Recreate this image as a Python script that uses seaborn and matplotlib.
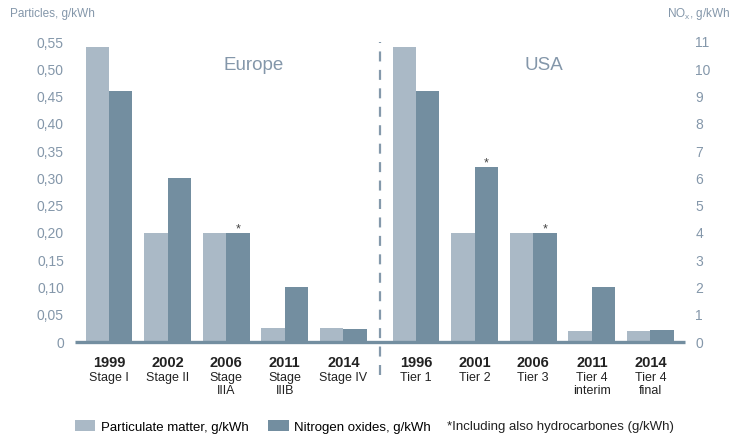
import numpy as np
import pandas as pd
import matplotlib
matplotlib.use("Agg")
import matplotlib.pyplot as plt
import matplotlib.transforms as mtransforms
from matplotlib.patches import Patch
import seaborn as sns

# data
regions = ["Europe", "USA"]
eu_years = ["1999", "2002", "2006", "2011", "2014"]
eu_stages = ["Stage I", "Stage II", "Stage\nIIIA", "Stage\nIIIB", "Stage IV"]
eu_pm = [0.54, 0.20, 0.20, 0.025, 0.025]
eu_nox = [9.2, 6.0, 4.0, 2.0, 0.49]
eu_star = [False, False, True, False, False]

us_years = ["1996", "2001", "2006", "2011", "2014"]
us_stages = ["Tier 1", "Tier 2", "Tier 3", "Tier 4\ninterim", "Tier 4\nfinal"]
us_pm = [0.54, 0.20, 0.20, 0.02, 0.02]
us_nox = [9.2, 6.4, 4.0, 2.0, 0.45]
us_star = [False, True, True, False, False]

pm_ticks = [0, 0.05, 0.10, 0.15, 0.20, 0.25, 0.30, 0.35, 0.40, 0.45, 0.50, 0.55]
nox_ticks = list(range(0, 12))

PM_COLOR = "#aab9c6"
NOX_COLOR = "#738ea0"
LABEL_COLOR = "#8497aa"

plt.rcParams["font.family"] = ["Liberation Sans", "DejaVu Sans"]
plt.rcParams["mathtext.default"] = "regular"

# positions: USA block is shifted a bit to leave room for the divider
us_shift = 5.24
pos = np.concatenate([np.arange(5), np.arange(5) + us_shift])
df = pd.DataFrame({
    "pos": pos,
    "year": eu_years + us_years,
    "stage": eu_stages + us_stages,
    "pm": eu_pm + us_pm,
    "nox": eu_nox + us_nox,
    "star": eu_star + us_star,
})
bw = 0.4

fig = plt.figure(figsize=(7.35, 4.36), dpi=100)
ax = fig.add_axes([75 / 735, 94 / 436, 610 / 735, 300 / 436])
ax2 = ax.twinx()

sns.barplot(x=df["pos"] - bw / 2, y=df["pm"], ax=ax, native_scale=True,
            color=PM_COLOR, saturation=1, width=bw, errorbar=None, linewidth=0)
sns.barplot(x=df["pos"] + bw / 2, y=df["nox"], ax=ax2, native_scale=True,
            color=NOX_COLOR, saturation=1, width=bw, errorbar=None, linewidth=0)

ax.set_ylim(0, 0.55)
ax2.set_ylim(0, 11)
ax.set_xlim(-0.58, 9.83)

for a in (ax, ax2):
    for s in a.spines.values():
        s.set_visible(False)
    a.set_xlabel("")
    a.set_ylabel("")
ax2.spines["bottom"].set_visible(True)
ax2.spines["bottom"].set_color(NOX_COLOR)
ax2.spines["bottom"].set_linewidth(2.4)
ax2.spines["bottom"].set_capstyle("butt")

ax.set_yticks(pm_ticks)
ax.set_yticklabels(["0"] + [f"{t:.2f}".replace(".", ",") for t in pm_ticks[1:]])
ax.tick_params(axis="y", length=0, pad=8, labelsize=10, labelcolor=LABEL_COLOR)
ax2.set_yticks(nox_ticks)
ax2.set_yticklabels([str(t) for t in nox_ticks])
ax2.tick_params(axis="y", length=0, pad=7.5, labelsize=10, labelcolor=LABEL_COLOR)

ax.set_xticks(df["pos"])
ax.set_xticklabels(df["year"], fontweight="bold", fontsize=10.5, color="#222222")
ax.tick_params(axis="x", length=0, pad=10)
ax2.tick_params(axis="x", length=0, labelbottom=False)

trans = mtransforms.blended_transform_factory(ax.transData, ax.transAxes)
for x, sub in zip(df["pos"], df["stage"]):
    ax.text(x, -0.1, sub, transform=trans, ha="center", va="top",
            fontsize=9, color="#222222", linespacing=1.15)

# asterisks for NOx + hydrocarbons
for x, v, st in zip(df["pos"], df["nox"], df["star"]):
    if st:
        ax2.annotate("*", xy=(x + bw / 2, v), xytext=(0, -1.5),
                     textcoords="offset points", ha="center", va="bottom",
                     fontsize=9, color="#444444")

# divider between regions
ax.axvline(4.62, ymin=-0.11, ymax=1.0, color="#8499ab", linewidth=1.6,
           dashes=(4.5, 3.8), clip_on=False)

ax.text(2.46, 0.92, regions[0], transform=trans, ha="center", va="center",
        fontsize=13.5, color=LABEL_COLOR)
ax.text(7.42, 0.92, regions[1], transform=trans, ha="center", va="center",
        fontsize=13.5, color=LABEL_COLOR)

fig.text(10 / 735, 1 - 14 / 436, "Particles, g/kWh", ha="left", va="center",
         fontsize=8.5, color=LABEL_COLOR)
fig.text(730 / 735, 1 - 14 / 436, r"NO$_x$, g/kWh", ha="right", va="center",
         fontsize=8.5, color=LABEL_COLOR)

handles = [Patch(color=PM_COLOR, linewidth=0), Patch(color=NOX_COLOR, linewidth=0)]
fig.legend(handles, ["Particulate matter, g/kWh", "Nitrogen oxides, g/kWh"],
           ncol=2, loc="center left", bbox_to_anchor=(75 / 735, 1 - 427 / 436),
           frameon=False, fontsize=9.5, handlelength=1.55, handleheight=0.9,
           handletextpad=0.4, columnspacing=1.5, borderpad=0, borderaxespad=0)
fig.text(447 / 735, 1 - 427 / 436, "*Including also hydrocarbones (g/kWh)",
         ha="left", va="center", fontsize=9.5, color="#222222")

fig.savefig("out.png", dpi=100)
